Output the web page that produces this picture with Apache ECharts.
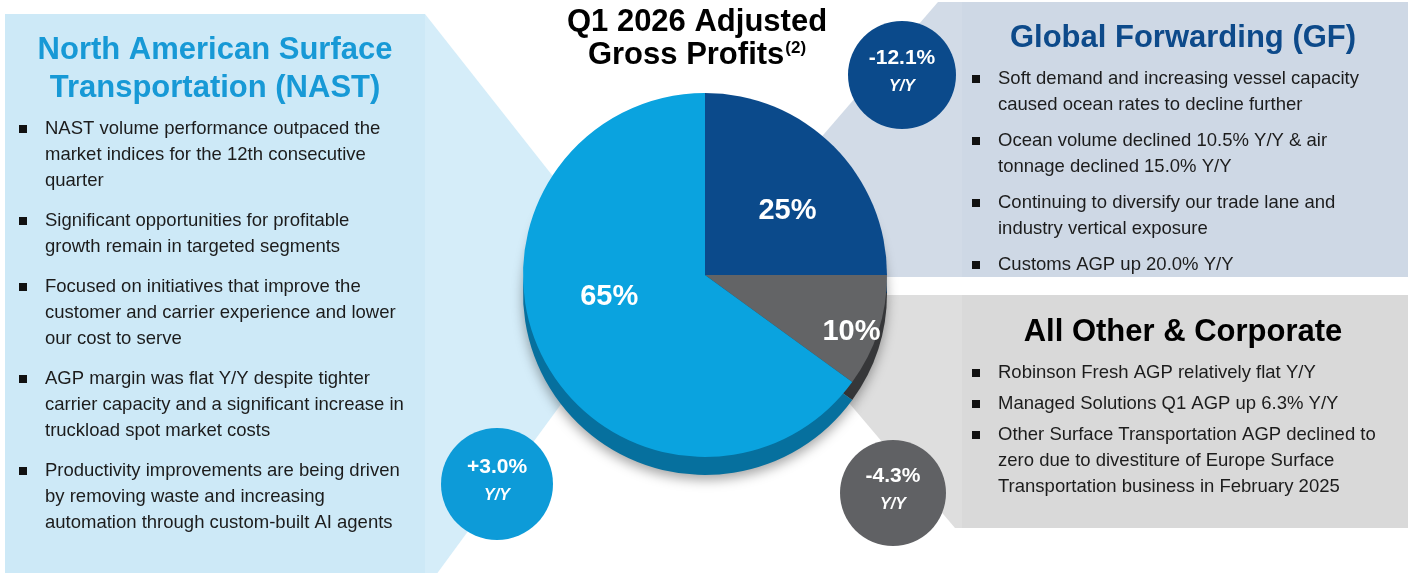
<!DOCTYPE html>
<html>
<head>
<meta charset="utf-8">
<script src="https://cdn.jsdelivr.net/npm/echarts@6/dist/echarts.min.js"></script>
<style>
html,body{margin:0;padding:0;background:#fff;}
#chart{width:1413px;height:573px;}
</style>
</head>
<body>
<div id="chart"></div>
<script>
// ---- data ----
const segments = ['Global Forwarding (GF)', 'All Other & Corporate', 'North American Surface Transportation (NAST)'];
const shares = [25, 10, 65];
const yoyChanges = ['-12.1%', '-4.3%', '+3.0%'];
const chartTitle = ['Q1 2026 Adjusted', 'Gross Profits'];
const titleNote = '(2)';
const nastTitle = ['North American Surface', 'Transportation (NAST)'];
const nastBullets = [
  ['NAST volume performance outpaced the', 'market indices for the 12th consecutive', 'quarter'],
  ['Significant opportunities for profitable', 'growth remain in targeted segments'],
  ['Focused on initiatives that improve the', 'customer and carrier experience and lower', 'our cost to serve'],
  ['AGP margin was flat Y/Y despite tighter', 'carrier capacity and a significant increase in', 'truckload spot market costs'],
  ['Productivity improvements are being driven', 'by removing waste and increasing', 'automation through custom-built AI agents']
];
const gfTitle = 'Global Forwarding (GF)';
const gfBullets = [
  ['Soft demand and increasing vessel capacity', 'caused ocean rates to decline further'],
  ['Ocean volume declined 10.5% Y/Y & air', 'tonnage declined 15.0% Y/Y'],
  ['Continuing to diversify our trade lane and', 'industry vertical exposure'],
  ['Customs AGP up 20.0% Y/Y']
];
const otherTitle = 'All Other & Corporate';
const otherBullets = [
  ['Robinson Fresh AGP relatively flat Y/Y'],
  ['Managed Solutions Q1 AGP up 6.3% Y/Y'],
  ['Other Surface Transportation AGP declined to', 'zero due to divestiture of Europe Surface', 'Transportation business in February 2025']
];

// ---- styles ----
const FONT = '"Liberation Sans", Arial, sans-serif';
const faceColors = ['#0b4a8b', '#636466', '#0aa3df'];
const rimColors = ['#06345f', '#363739', '#06709e'];
const circleColors = ['#0b4a8b', '#606164', '#0d9bd8'];
const LH = 26;

function bulletBlock(x, firstY, groups, gap) {
  const els = [];
  let y = firstY;
  groups.forEach(lines => {
    els.push({ type: 'rect', z: 5, shape: { x: x - 26, y: y - 4, width: 8, height: 8 }, style: { fill: '#111' } });
    els.push({ type: 'text', z: 5, x: x, y: y - LH / 2, style: {
      text: lines.join('\n'), font: '18.5px ' + FONT, fill: '#1c1c1c', lineHeight: LH,
      verticalAlign: 'top', align: 'left' } });
    y += lines.length * LH + gap;
  });
  return els;
}

function yoyCircle(cx, cy, r, color, label) {
  return [
    { type: 'circle', z: 5, shape: { cx: cx, cy: cy, r: r }, style: { fill: color } },
    { type: 'text', z: 6, x: cx, y: cy - 17, style: { text: label, font: 'bold 21px ' + FONT, fill: '#fff', align: 'center', verticalAlign: 'middle' } },
    { type: 'text', z: 6, x: cx, y: cy + 12, style: { text: 'Y/Y', font: 'italic bold 16px ' + FONT, fill: '#fff', align: 'center', verticalAlign: 'middle' } }
  ];
}

const graphics = [].concat(
  // NAST panel + wedge
  [{ type: 'polygon', z: 0, shape: { points: [[425, 14], [600, 236], [600, 351], [425, 590]] }, style: { fill: '#d5edf9' } },
   { type: 'rect', z: 0, shape: { x: 5, y: 14, width: 420, height: 570 }, style: { fill: '#cde9f7' } },
  // GF panel + wedge
   { type: 'polygon', z: 0, shape: { points: [[938, 2], [962, 2], [962, 277], [780, 277], [780, 185]] }, style: { fill: '#d2dbe7' } },
   { type: 'rect', z: 0, shape: { x: 962, y: 2, width: 446, height: 275 }, style: { fill: '#ced8e5' } },
  // All Other panel + wedge
   { type: 'polygon', z: 0, shape: { points: [[800, 295], [962, 295], [962, 528], [955, 528], [800, 345]] }, style: { fill: '#dedede' } },
   { type: 'rect', z: 0, shape: { x: 962, y: 295, width: 446, height: 233 }, style: { fill: '#d9d9d9' } },
  // titles
   { type: 'text', z: 5, x: 697, y: 7, style: { text: chartTitle[0], font: 'bold 31px ' + FONT, fill: '#000', align: 'center', verticalAlign: 'top' } },
   { type: 'text', z: 5, x: 697, y: 40, style: {
      text: chartTitle[1] + '{sup|' + titleNote + '}', font: 'bold 31px ' + FONT, fill: '#000', align: 'center', verticalAlign: 'top',
      rich: { sup: { font: 'bold 17px ' + FONT, fill: '#000', verticalAlign: 'top', padding: [0, 0, 12, 1] } } } },
   { type: 'text', z: 5, x: 215, y: 31, style: { text: nastTitle.join('\n'), font: 'bold 31px ' + FONT, fill: '#1799d6', align: 'center', verticalAlign: 'top', lineHeight: 38 } },
   { type: 'text', z: 5, x: 1183, y: 38, style: { text: gfTitle, font: 'bold 31px ' + FONT, fill: '#0d4a8a', align: 'center', verticalAlign: 'middle' } },
   { type: 'text', z: 5, x: 1183, y: 332, style: { text: otherTitle, font: 'bold 31px ' + FONT, fill: '#000', align: 'center', verticalAlign: 'middle' } }
  ],
  bulletBlock(45, 129, nastBullets, 14),
  bulletBlock(998, 79, gfBullets, 10),
  bulletBlock(998, 373, otherBullets, 5),
  yoyCircle(902, 75, 54, circleColors[0], yoyChanges[0]),
  yoyCircle(893, 493, 53, circleColors[1], yoyChanges[1]),
  yoyCircle(497, 484, 56, circleColors[2], yoyChanges[2])
);

const labelShift = [[16, 2], [57, 28], [-12, -21]];

const chart = echarts.init(document.getElementById('chart'), null, { renderer: 'canvas' });
chart.setOption({
  backgroundColor: '#ffffff',
  animation: false,
  graphic: graphics,
  series: [
    {
      type: 'pie', name: 'rim', silent: true, z: 2,
      center: [705, 293], radius: [0, 182], startAngle: 90, clockwise: true,
      label: { show: false }, labelLine: { show: false },
      itemStyle: { shadowBlur: 12, shadowColor: 'rgba(0,0,0,0.35)', shadowOffsetY: 5 },
      data: segments.map((s, i) => ({ name: s, value: shares[i], itemStyle: { color: rimColors[i] } }))
    },
    {
      type: 'pie', name: 'Q1 2026 Adjusted Gross Profits', silent: true, z: 3,
      center: [705, 275], radius: [0, 182], startAngle: 90, clockwise: true,
      labelLine: { show: false },
      label: { show: true, position: 'inside', formatter: '{c}%', color: '#fff', fontFamily: FONT, fontWeight: 'bold', fontSize: 29 },
      labelLayout: function (p) { return { dx: labelShift[p.dataIndex][0], dy: labelShift[p.dataIndex][1] }; },
      data: segments.map((s, i) => ({ name: s, value: shares[i], itemStyle: { color: faceColors[i] } }))
    }
  ]
});
</script>
</body>
</html>
